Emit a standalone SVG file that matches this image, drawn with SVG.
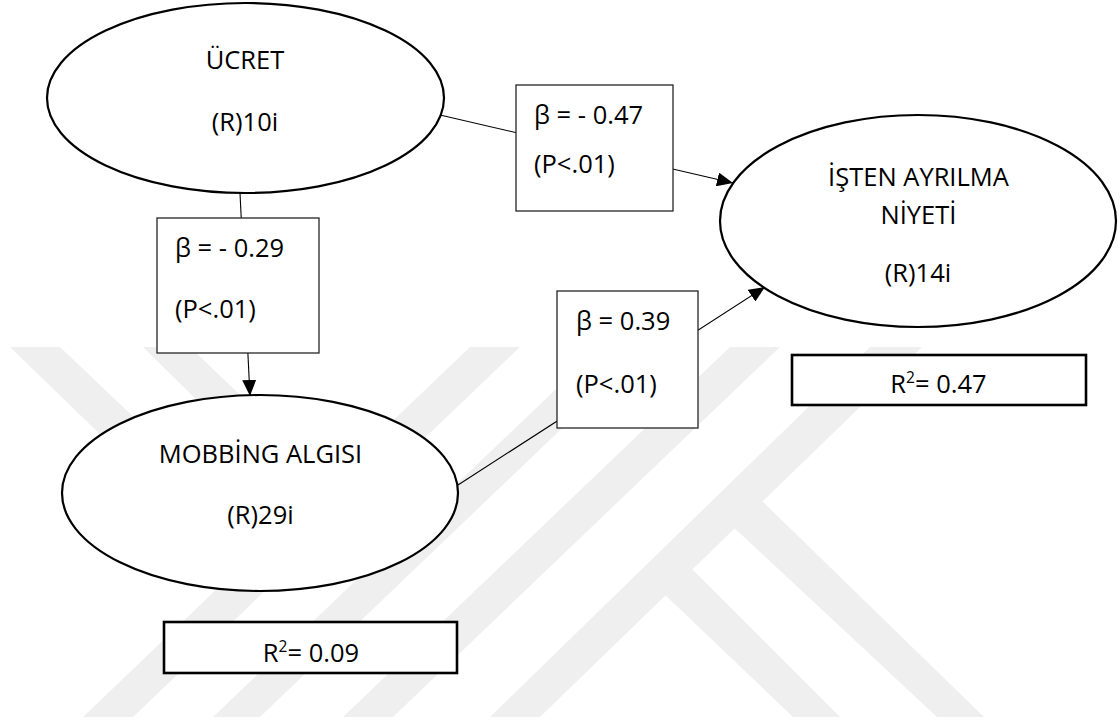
<svg xmlns="http://www.w3.org/2000/svg" width="1120" height="722" viewBox="0 0 1120 722">
  <defs>
    <style>
      .node { fill: #ffffff; stroke: #000000; stroke-width: 2.2; }
      .box { fill: #ffffff; stroke: #262626; stroke-width: 1.3; }
      .rbox { fill: #ffffff; stroke: #000000; stroke-width: 2.6; }
      .conn { fill: none; stroke: #000000; stroke-width: 1.1; marker-end: url(#arrow); }
      text { font-family: "Open Sans", "Noto Sans", "DejaVu Sans", sans-serif; font-size: 25.5px; fill: #000000; }
      .c { text-anchor: middle; }
      .wm { fill: #efefef; stroke: none; }
    </style>
    <marker id="arrow" markerUnits="userSpaceOnUse" markerWidth="17" markerHeight="14" refX="16" refY="7" orient="auto">
      <path d="M0,0 L16,7 L0,14 z" fill="#000000"/>
    </marker>
    <clipPath id="wmclip">
      <rect x="0" y="347" width="1120" height="370"/>
    </clipPath>
  </defs>

  <rect x="0" y="0" width="1120" height="722" fill="#ffffff"/>

  <g id="watermark" clip-path="url(#wmclip)">
    <polygon class="wm" points="470,347 520,347 133,717 83,717"/>
    <polygon class="wm" points="600,347 647,347 260,717 213,717"/>
    <polygon class="wm" points="730,347 780,347 393,717 343,717"/>
    <polygon class="wm" points="870,347 922,347 540,717 490,717"/>
    <polygon class="wm" points="10,347 60,347 268,545 240,570"/>
    <polygon class="wm" points="143,347 190,347 332,483 304,506"/>
    <polygon class="wm" points="688,565 840,717 793,717 662,592"/>
    <polygon class="wm" points="758,497 984,717 937,717 730,524"/>
  </g>

  <g id="connectors">
    <line class="conn" x1="440" y1="115" x2="733" y2="183"/>
    <line class="conn" x1="240" y1="193" x2="250" y2="396"/>
    <line class="conn" x1="458" y1="485" x2="765" y2="287"/>
  </g>

  <g id="node-ucret">
    <ellipse class="node" cx="245.5" cy="98" rx="198.5" ry="95"/>
    <text class="c" x="245" y="69">ÜCRET</text>
    <text class="c" x="245" y="131">(R)10i</text>
  </g>

  <g id="node-isten">
    <ellipse class="node" cx="918" cy="221" rx="198" ry="106"/>
    <text class="c" x="918.5" y="186">İŞTEN AYRILMA</text>
    <text class="c" x="918.5" y="224">NİYETİ</text>
    <text class="c" x="918" y="282">(R)14i</text>
  </g>

  <g id="node-mobbing">
    <ellipse class="node" cx="260" cy="493" rx="198" ry="98"/>
    <text class="c" x="260.5" y="463">MOBBİNG ALGISI</text>
    <text class="c" x="260.5" y="524">(R)29i</text>
  </g>

  <g id="label-ucret-isten">
    <rect class="box" x="516" y="85" width="157" height="126"/>
    <text x="534" y="124">β = - 0.47</text>
    <text x="534" y="173">(P&lt;.01)</text>
  </g>

  <g id="label-ucret-mobbing">
    <rect class="box" x="157" y="218" width="162" height="135"/>
    <text x="175" y="257">β = - 0.29</text>
    <text x="175" y="318">(P&lt;.01)</text>
  </g>

  <g id="label-mobbing-isten">
    <rect class="box" x="557" y="291" width="141" height="137"/>
    <text x="576" y="330">β = 0.39</text>
    <text x="576" y="393">(P&lt;.01)</text>
  </g>

  <g id="r2-isten">
    <rect class="rbox" x="792" y="355" width="294" height="50"/>
    <text class="c" x="938.5" y="393">R<tspan font-size="15.5" dy="-10">2</tspan><tspan dy="10">= 0.47</tspan></text>
  </g>

  <g id="r2-mobbing">
    <rect class="rbox" x="164" y="622" width="293" height="51"/>
    <text class="c" x="311" y="662">R<tspan font-size="15.5" dy="-10">2</tspan><tspan dy="10">= 0.09</tspan></text>
  </g>
</svg>
